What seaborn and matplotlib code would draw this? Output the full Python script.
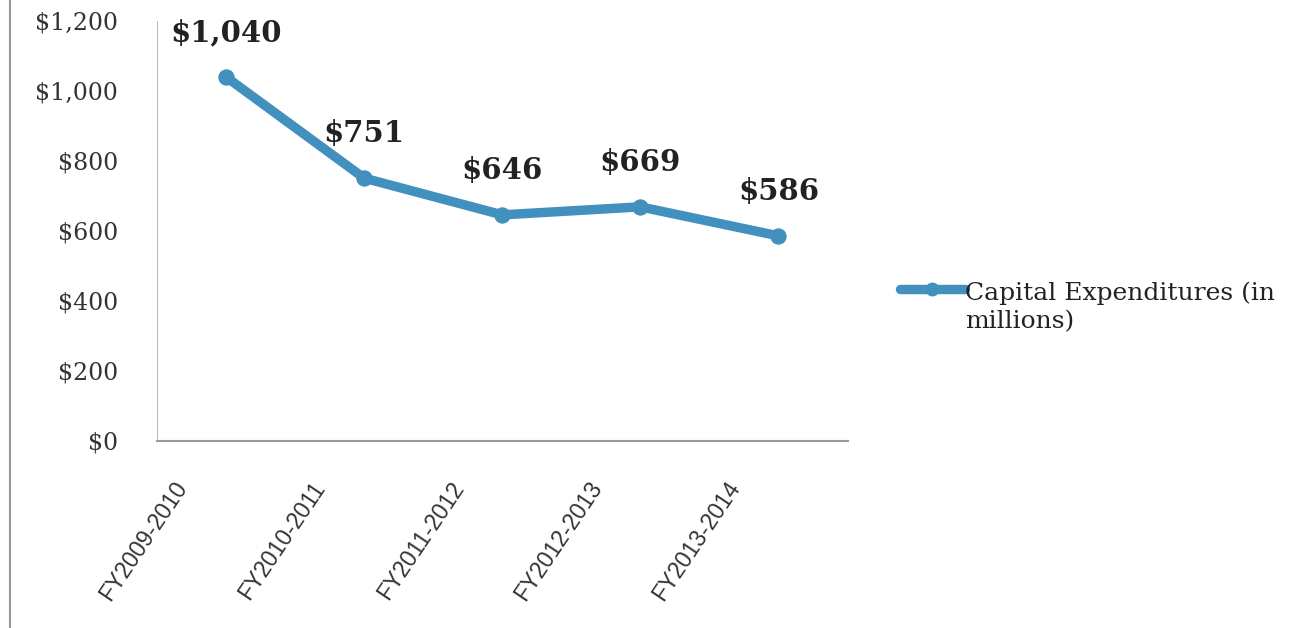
import matplotlib
matplotlib.use("Agg")
import matplotlib.pyplot as plt
from matplotlib.lines import Line2D
from matplotlib.ticker import FuncFormatter, FixedLocator
from matplotlib.transforms import ScaledTranslation
import seaborn as sns
import pandas as pd

# datos
anios = ["FY2009-2010", "FY2010-2011", "FY2011-2012", "FY2012-2013", "FY2013-2014"]
gastos = [1040, 751, 646, 669, 586]
etiquetas = ["$1,040", "$751", "$646", "$669", "$586"]
serie = "Capital Expenditures (in\nmillions)"

df = pd.DataFrame({"anio": anios, "valor": gastos})

sns.set_style("white")
plt.rcParams["font.family"] = ["DejaVu Serif", "Liberation Serif"]

azul = "#4290bd"
fig = plt.figure(figsize=(12.9, 6.28), dpi=100)
ax = fig.add_axes([0.1217, 0.2978, 0.657 - 0.1217, 0.9666 - 0.2978])

sns.lineplot(x="anio", y="valor", data=df, ax=ax, color=azul, linewidth=6.8,
             marker="o", markersize=11, markeredgecolor=azul, sort=False)

# etiquetas de valor encima de cada punto
for i, (v, txt) in enumerate(zip(gastos, etiquetas)):
    ax.annotate(txt, (i, v), xytext=(0, 32), textcoords="offset points",
                ha="center", va="center", fontsize=21, fontweight="bold", color="#222222")

ax.set_ylim(0, 1200)
ax.set_xlim(-0.5, 4.5)
ax.yaxis.set_major_locator(FixedLocator(range(0, 1201, 200)))
ax.yaxis.set_major_formatter(FuncFormatter(lambda v, p: "${:,.0f}".format(v)))
ax.tick_params(axis="y", labelsize=17, length=5, width=1, color="#aaaaaa", pad=23, labelcolor="#333333")

# marcas del eje x entre categorías (estilo Excel)
ax.set_xticks(range(len(anios)))
ax.set_xticklabels(anios, rotation=56, ha="right", rotation_mode="anchor",
                   fontsize=16.5, family=["Liberation Sans", "DejaVu Sans"], color="#333333")
ax.tick_params(axis="x", which="major", length=0, pad=14)
desplaza = ScaledTranslation(-0.53, -0.17, fig.dpi_scale_trans)
for lab in ax.get_xticklabels():
    lab.set_transform(lab.get_transform() + desplaza)
ax.set_xticks([i - 0.5 for i in range(len(anios) + 1)], minor=True)
ax.tick_params(axis="x", which="minor", length=6, width=1, color="#aaaaaa")

for lado in ["top", "right"]:
    ax.spines[lado].set_visible(False)
ax.spines["left"].set_color("#bbbbbb")
ax.spines["bottom"].set_color("#999999")
ax.spines["bottom"].set_linewidth(1.5)
ax.set_xlabel("")
ax.set_ylabel("")

# leyenda a la derecha
h = Line2D([0], [0], color=azul, linewidth=6.8, marker="o", markersize=9)
leg = fig.legend([h], [serie], loc="center left", bbox_to_anchor=(0.68, 0.505),
                 frameon=False, fontsize=18, handlelength=2.6, handletextpad=0.0,
                 handleheight=5.7)
for t in leg.get_texts():
    t.set_linespacing(1.3)
    t.set_color("#222222")

# borde gris izquierdo del recuadro
fig.add_artist(Line2D([0.008, 0.008], [0, 1], transform=fig.transFigure, color="#999999", linewidth=1.5))

plt.savefig("out.png", dpi=100)
plt.close()
